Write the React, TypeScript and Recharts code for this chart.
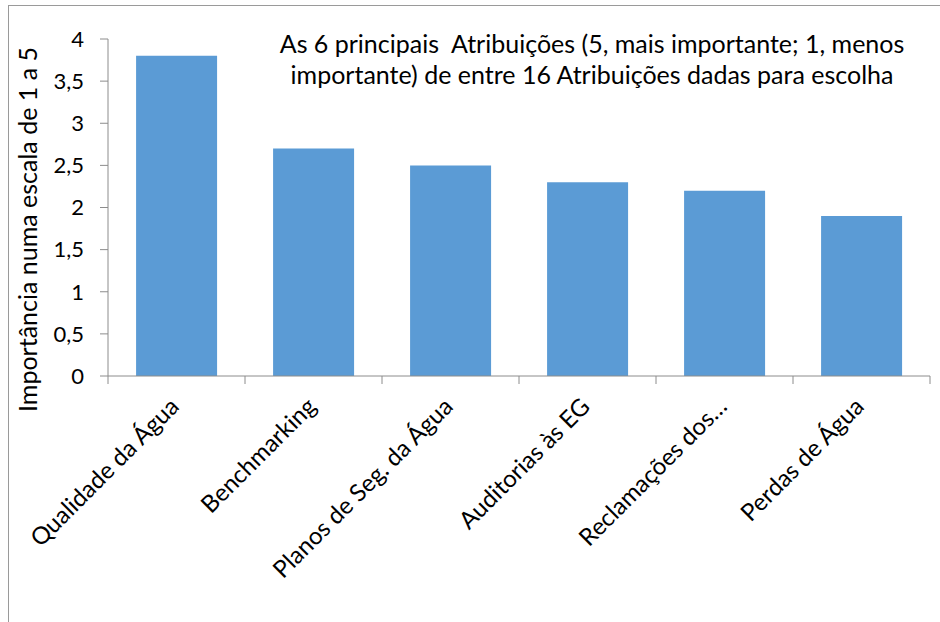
import React from 'react';
import { BarChart, Bar, XAxis, YAxis, Label } from 'recharts';

const categories = [
  'Qualidade da Água',
  'Benchmarking',
  'Planos de Seg. da Água',
  'Auditorias às EG',
  'Reclamações dos…',
  'Perdas de Água',
];
const values = [3.8, 2.7, 2.5, 2.3, 2.2, 1.9];
const yTicks = [0, 0.5, 1, 1.5, 2, 2.5, 3, 3.5, 4];
const titleLines = [
  'As 6 principais  Atribuições (5, mais importante; 1, menos',
  'importante) de entre 16 Atribuições dadas para escolha',
];
const yAxisTitle = 'Importância numa escala de 1 a 5';

const data = categories.map((name, i) => ({ name, value: values[i] }));

const FONT = 'Lato, "Open Sans", sans-serif';
const AXIS_COLOR = '#8c8c8c';
const BAR_COLOR = '#5B9BD5';

const CategoryTick = (props: any) => {
  const { x, y, payload, index, visibleTicksCount, width } = props;
  const half =
    payload && typeof payload.offset === 'number' && payload.offset > 0
      ? payload.offset
      : width / visibleTicksCount / 2;
  const ax = x + 4;
  const ay = y + 32;
  const isLast = index === visibleTicksCount - 1;
  return (
    <g>
      <line x1={x - half} x2={x - half} y1={y} y2={y + 8} stroke={AXIS_COLOR} />
      {isLast && <line x1={x + half} x2={x + half} y1={y} y2={y + 8} stroke={AXIS_COLOR} />}
      <text
        x={ax}
        y={ay}
        transform={`rotate(-45, ${ax}, ${ay})`}
        textAnchor="end"
        fontFamily={FONT}
        fontSize={24}
        fill="#000"
      >
        {payload.value}
      </text>
    </g>
  );
};

const YTitle = (props: any) => {
  const { viewBox } = props;
  const cx = viewBox.x + 27;
  const cy = viewBox.y + viewBox.height / 2 + 22;
  return (
    <text
      x={cx}
      y={cy}
      transform={`rotate(-90, ${cx}, ${cy})`}
      textAnchor="middle"
      dominantBaseline="central"
      fontFamily={FONT}
      fontSize={25}
      fill="#000"
    >
      {yAxisTitle}
    </text>
  );
};

export default function App() {
  return (
    <div style={{ position: 'absolute', left: 0, top: 0, width: 940, height: 622, background: '#fff', overflow: 'hidden' }}>
      <div
        style={{
          position: 'absolute',
          left: 8,
          top: 5,
          width: 1000,
          height: 700,
          borderTop: '1px solid #9a9a9a',
          borderLeft: '1px solid #9a9a9a',
        }}
      />
      <div style={{ position: 'absolute', left: 0, top: 0 }}>
        <BarChart
          width={940}
          height={622}
          data={data}
          margin={{ top: 39, right: 10, left: 0, bottom: 0 }}
          barCategoryGap="20.5%"
        >
          <XAxis
            dataKey="name"
            type="category"
            height={246}
            interval={0}
            stroke={AXIS_COLOR}
            axisLine={{ stroke: AXIS_COLOR }}
            tickLine={false}
            tickSize={0}
            tickMargin={0}
            tick={<CategoryTick />}
          />
          <YAxis
            width={108}
            domain={[0, 4]}
            ticks={yTicks}
            interval={0}
            tickSize={8}
            tickMargin={16}
            stroke={AXIS_COLOR}
            axisLine={{ stroke: AXIS_COLOR }}
            tickLine={{ stroke: AXIS_COLOR }}
            tick={{ fill: '#000', fontSize: 22, fontFamily: FONT }}
            tickFormatter={(v: number) => String(v).replace('.', ',')}
          >
            <Label content={<YTitle />} />
          </YAxis>
          <Bar dataKey="value" fill={BAR_COLOR} isAnimationActive={false} />
        </BarChart>
      </div>
      <div
        style={{
          position: 'absolute',
          left: 592 - 450,
          top: 28,
          width: 900,
          textAlign: 'center',
          fontFamily: FONT,
          fontSize: 25,
          lineHeight: '31px',
          color: '#000',
          whiteSpace: 'pre',
        }}
      >
        {titleLines.map((l, i) => (
          <div key={i}>{l}</div>
        ))}
      </div>
    </div>
  );
}
